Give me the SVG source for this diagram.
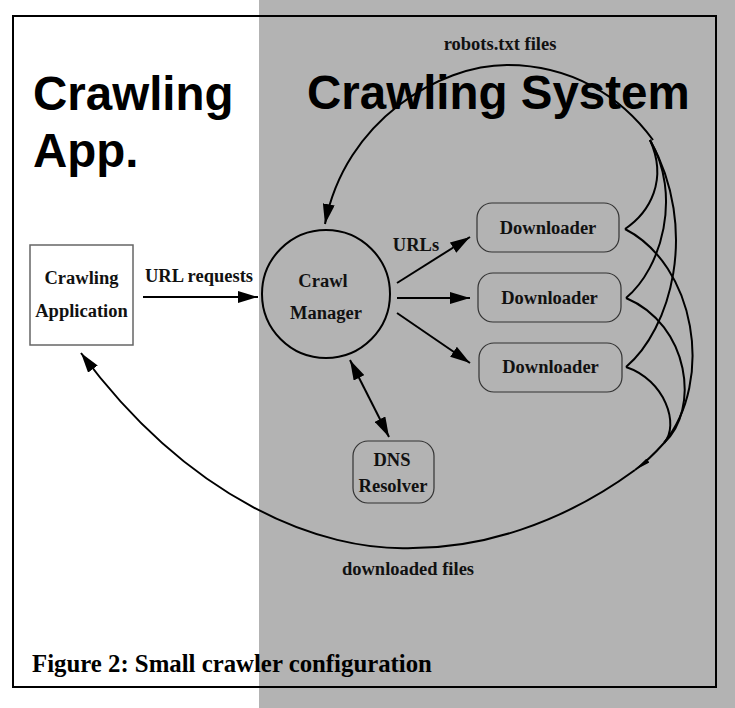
<svg xmlns="http://www.w3.org/2000/svg" width="735" height="708" viewBox="0 0 735 708">
<defs>
<style>
.lbl{font-family:"Liberation Serif","Times New Roman",serif;font-weight:bold;font-size:18.5px;fill:#111;text-anchor:middle}
.title{font-family:"Liberation Sans",Arial,sans-serif;font-weight:bold;font-size:47.5px;fill:#000}
.edge{fill:none;stroke:#000;stroke-width:2}
.box{fill:none;stroke:#333;stroke-width:1.2}
</style>
<marker id="ah" viewBox="0 0 20 12" refX="20" refY="6" markerWidth="20" markerHeight="12" markerUnits="userSpaceOnUse" orient="auto-start-reverse">
<path d="M0,0 L20,6 L0,12 Z" fill="#000"/>
</marker>
<marker id="sm" viewBox="0 0 16 5" refX="16" refY="2.5" markerWidth="16" markerHeight="5" markerUnits="userSpaceOnUse" orient="auto">
<path d="M0,0 L16,2.5 L0,5 Z" fill="#000"/>
</marker>
</defs>
<rect x="0" y="0" width="735" height="708" fill="#fff"/>
<rect x="259" y="0" width="476" height="708" fill="#b3b3b3"/>
<rect x="13" y="16" width="703" height="671" fill="none" stroke="#000" stroke-width="2"/>

<text class="title" x="33" y="110">Crawling</text>
<text class="title" x="33" y="167">App.</text>
<text class="title" x="307" y="109">Crawling System</text>

<g id="connectors">
<path class="edge" d="M143,297 L258,297" marker-end="url(#ah)"/>
<path class="edge" d="M397,283 L470,237" marker-end="url(#ah)"/>
<path class="edge" d="M397,298 L470,298" marker-end="url(#ah)"/>
<path class="edge" d="M397,313 L470,363" marker-end="url(#ah)"/>
<path class="edge" d="M350,360 L389,437" marker-start="url(#ah)" marker-end="url(#ah)"/>
<path class="edge" d="M653,140 C620,95 570,65 507,65 C440,65 345,120 325,224" marker-end="url(#ah)"/>
<path class="edge" d="M625,229 C650,212 668,180 650,140"/>
<path class="edge" d="M626,298 C662,268 682,195 650,140"/>
<path class="edge" d="M626,367 C670,330 700,230 650,140"/>
<path class="edge" d="M625,229 C695,265 715,380 664,443"/>
<path class="edge" d="M626,298 C690,325 700,410 664,443"/>
<path class="edge" d="M626,367 C665,380 680,425 664,443"/>
<path class="edge" d="M664,443 C656,452 646,462 635,470" marker-end="url(#sm)"/>
<path class="edge" d="M635,470 C560,525 480,548 413,548 C320,552 190,500 81,353" marker-end="url(#ah)"/>
<text class="lbl" x="500" y="50">robots.txt files</text>
<text class="lbl" x="199" y="282">URL requests</text>
<text class="lbl" x="416" y="251">URLs</text>
<text class="lbl" x="408" y="575">downloaded files</text>
</g>

<g id="crawling-application">
<rect x="30" y="245" width="103" height="100" fill="#fff" stroke="#666" stroke-width="1.5"/>
<text class="lbl" x="81.5" y="284">Crawling</text>
<text class="lbl" x="81.5" y="317">Application</text>
</g>

<g id="crawl-manager">
<circle cx="326" cy="294" r="64" fill="none" stroke="#000" stroke-width="2"/>
<text class="lbl" x="323" y="287">Crawl</text>
<text class="lbl" x="326" y="319">Manager</text>
</g>

<g id="downloader-1">
<rect class="box" x="477" y="203" width="142" height="49" rx="15"/>
<text class="lbl" x="548" y="234">Downloader</text>
</g>
<g id="downloader-2">
<rect class="box" x="478" y="273" width="143" height="49" rx="15"/>
<text class="lbl" x="549.5" y="304">Downloader</text>
</g>
<g id="downloader-3">
<rect class="box" x="479" y="343" width="143" height="49" rx="15"/>
<text class="lbl" x="550.5" y="373">Downloader</text>
</g>

<g id="dns-resolver">
<rect class="box" x="353" y="441" width="81" height="62" rx="15"/>
<text class="lbl" x="392" y="466">DNS</text>
<text class="lbl" x="393" y="492">Resolver</text>
</g>

<text x="32" y="672" style="font-family:'Liberation Serif','Times New Roman',serif;font-weight:bold;font-size:24.8px;fill:#000">Figure 2: Small crawler configuration</text>
</svg>
